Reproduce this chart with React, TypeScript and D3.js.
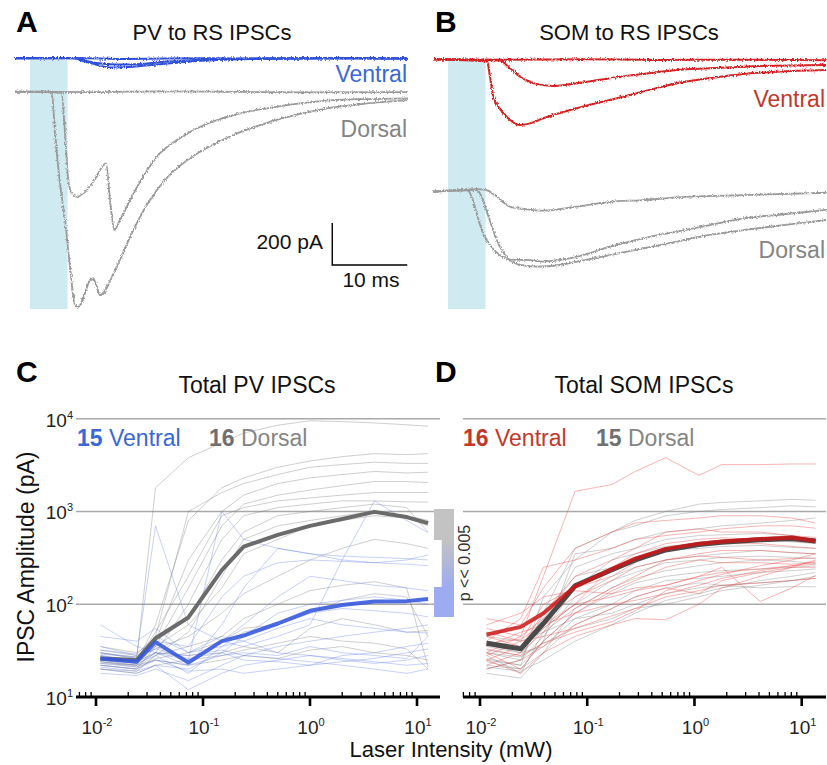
import React from 'react';
import * as d3 from 'd3';

type Pt = [number, number];

// ---------- Panel A / B traces: [time (ms), current (pA)] ----------
const pvVentralTraces: Pt[][] = [
  [[0, 0], [8, 2], [15, -3], [25, 0], [35, -2], [45, 1], [52.4, -1]],
  [[0, 0], [7.8, 0], [9, -8], [10.5, -20], [12.5, -28], [14.5, -30], [17, -26], [20, -17], [24, -8], [28, -3], [35, 0], [52.4, 0]],
  [[0, 0], [7.8, 0], [9.5, -18], [11, -32], [13, -44], [15, -42], [17, -36], [20, -26], [23, -16], [27, -8], [32, -3], [40, 0], [52.4, -2]],
];
const pvDorsalTraces: Pt[][] = [
  [[0, 0], [10, -2], [20, 2], [30, -1], [40, -3], [52.4, -2]],
  [[0, 0], [6.2, -5], [6.67, -198], [7.11, -421], [7.56, -484], [8.22, -500], [9.11, -484], [10.44, -429], [12.13, -341], [12.67, -516], [13.24, -659], [14.0, -611], [14.9, -548], [16.67, -429], [18.9, -310], [21.6, -230], [24.7, -167], [29.1, -111], [33.6, -79], [38.0, -56], [42.4, -40], [46.9, -35], [52.4, -32]],
  [[0, 0], [4.9, 0], [5.33, -198], [6.0, -437], [6.67, -611], [7.33, -833], [8.0, -1016], [8.44, -1024], [9.33, -960], [10.0, -897], [10.44, -889], [10.89, -929], [11.33, -968], [13.56, -833], [15.78, -659], [18.0, -516], [20.2, -413], [22.4, -341], [24.7, -286], [29.1, -206], [33.6, -148], [38.0, -106], [42.4, -75], [46.9, -56], [52.4, -40]],
];
const somVentralTraces: Pt[][] = [
  [[0, 0], [10, -2], [20, 0], [30, -3], [40, -2], [52.4, -4]],
  [[0, 0], [8.93, -6], [10.27, -43], [11.6, -83], [13.8, -117], [16.0, -127], [19.16, -114], [23.6, -90], [28.0, -70], [32.5, -51], [36.9, -43], [41.4, -35], [52.4, -27]],
  [[0, 0], [7.24, -11], [7.6, -83], [8.04, -178], [8.7, -225], [9.38, -257], [10.27, -289], [11.6, -313], [12.93, -305], [14.7, -281], [19.16, -233], [23.6, -194], [28.0, -154], [32.5, -114], [36.9, -90], [41.4, -70], [45.8, -59], [52.4, -51]],
];
const somDorsalTraces: Pt[][] = [
  [[0, 0], [5.8, 12], [7.16, 8], [8.5, -24], [10.27, -71], [12.5, -84], [14.7, -90], [19.16, -71], [23.6, -48], [28, -40], [32.5, -27], [41.4, -16], [52.4, -5]],
  [[0, 0], [4.5, 8], [5.16, -24], [5.82, -103], [6.5, -183], [7.6, -254], [8.93, -302], [10.7, -325], [12.5, -325], [14.7, -333], [16.9, -325], [19.16, -310], [23.6, -262], [28, -222], [32.5, -190], [36.9, -159], [41.4, -127], [45.8, -111], [52.4, -87]],
  [[0, 0], [5.8, 8], [6.5, -24], [7.4, -119], [8.5, -230], [9.8, -310], [11.6, -349], [13.8, -357], [16.9, -349], [19.16, -333], [23.6, -302], [28, -270], [32.5, -238], [36.9, -206], [41.4, -183], [45.8, -163], [52.4, -135]],
];

// ---------- Panel C / D: laser intensity (mW) and IPSC amplitudes (pA) ----------
const pvIntensity = [0.011, 0.024, 0.036, 0.073, 0.15, 0.24, 0.5, 1.0, 2.0, 4.0, 8.0, 12.7];
const somIntensity = [0.0115, 0.024, 0.039, 0.077, 0.17, 0.28, 0.54, 1.1, 1.8, 4.1, 8.1, 13.5];

const pvDorsalCells = [
  [30, 26, 1800, 3800, 5500, 7000, 8500, 9500, 9300, 9000, 8600, 8300],
  [28, 24, 60, 800, 1800, 2300, 3000, 3500, 3900, 4200, 4100, 4200],
  [25, 22, 45, 1000, 1600, 2000, 2500, 3000, 3200, 3400, 3300, 3300],
  [32, 28, 40, 300, 1000, 1500, 2000, 2300, 2500, 2700, 2600, 2650],
  [22, 20, 35, 150, 700, 1200, 1500, 1700, 1900, 2100, 2100, 2050],
  [27, 25, 50, 200, 900, 1100, 1300, 1400, 1500, 1600, 1600, 1600],
  [24, 22, 30, 100, 500, 900, 1100, 1200, 1300, 1300, 1270, 1260],
  [35, 30, 40, 70, 300, 600, 900, 1000, 1100, 1200, 1100, 600],
  [20, 19, 28, 50, 200, 500, 700, 800, 900, 1000, 900, 800],
  [26, 23, 35, 60, 150, 350, 500, 700, 800, 900, 850, 700],
  [30, 27, 33, 45, 80, 130, 200, 300, 400, 500, 450, 400],
  [24, 21, 28, 35, 45, 70, 100, 140, 160, 175, 150, 21],
  [22, 20, 26, 30, 40, 55, 60, 80, 110, 130, 120, 45],
  [20, 18, 22, 25, 28, 32, 38, 45, 40, 38, 33, 20],
  [27, 24, 30, 28, 30, 35, 30, 55, 70, 60, 50, 52],
  [23, 22, 25, 22, 25, 28, 26, 32, 35, 30, 28, 25],
];
const pvVentralCells = [
  [35, 28, 700, 60, 40, 35, 45, 60, 300, 1300, 800, 590],
  [24, 22, 30, 25, 1000, 500, 400, 350, 330, 320, 310, 300],
  [30, 26, 40, 35, 120, 200, 280, 300, 290, 280, 270, 260],
  [22, 20, 25, 22, 60, 150, 400, 350, 300, 280, 300, 340],
  [28, 25, 35, 25, 40, 60, 120, 200, 180, 160, 150, 140],
  [20, 18, 22, 20, 30, 45, 80, 100, 110, 120, 110, 100],
  [25, 23, 28, 18, 35, 50, 60, 80, 90, 85, 80, 73],
  [32, 29, 45, 30, 45, 40, 55, 70, 60, 55, 50, 49],
  [18, 17, 20, 15, 22, 28, 35, 40, 45, 50, 55, 60],
  [26, 24, 30, 22, 28, 30, 28, 35, 30, 28, 26, 45],
  [21, 19, 22, 12, 18, 22, 25, 28, 26, 24, 22, 23],
  [29, 27, 33, 26, 30, 25, 24, 22, 28, 30, 35, 38],
  [45, 40, 55, 30, 35, 40, 30, 28, 25, 23, 25, 28],
  [23, 21, 25, 19, 20, 18, 20, 22, 24, 26, 30, 33],
  [60, 35, 30, 28, 32, 28, 26, 24, 22, 20, 18, 20],
];
const pvDorsalMean = [26, 25, 43, 72, 233, 417, 560, 700, 830, 990, 870, 750];
const pvVentralMean = [26, 24, 39, 23.5, 40, 46, 62, 85, 98, 107, 108, 114];

const somVentralCells = [
  [30, 45, 200, 1650, 1950, 2700, 3800, 2450, 3200, 3200, 3250, 3250],
  [70, 60, 150, 400, 600, 750, 800, 850, 900, 900, 850, 750],
  [40, 70, 250, 300, 400, 500, 550, 600, 650, 700, 700, 660],
  [25, 35, 80, 200, 300, 400, 600, 650, 600, 600, 550, 525],
  [35, 50, 60, 100, 250, 350, 450, 500, 520, 500, 480, 455],
  [28, 40, 100, 150, 200, 280, 400, 430, 450, 450, 420, 400],
  [55, 45, 70, 120, 180, 250, 300, 350, 380, 380, 360, 350],
  [22, 30, 50, 90, 150, 200, 300, 330, 320, 300, 310, 316],
  [30, 20, 40, 80, 140, 180, 250, 300, 280, 280, 270, 280],
  [45, 35, 55, 100, 120, 140, 160, 200, 250, 107, 150, 205],
  [20, 25, 35, 60, 90, 120, 150, 130, 180, 220, 250, 250],
  [60, 80, 120, 140, 130, 150, 160, 200, 220, 240, 260, 270],
  [25, 18, 30, 45, 60, 70, 68, 100, 150, 200, 250, 300],
  [38, 42, 60, 80, 100, 110, 130, 160, 190, 230, 260, 290],
  [50, 40, 45, 55, 75, 90, 120, 140, 160, 170, 180, 190],
  [33, 28, 38, 50, 65, 85, 140, 180, 210, 260, 300, 350],
];
const somDorsalCells = [
  [25, 22, 120, 300, 600, 800, 1000, 1200, 1250, 1300, 1350, 1320],
  [30, 25, 80, 400, 600, 700, 900, 1000, 1050, 1100, 1150, 1120],
  [22, 20, 40, 350, 400, 500, 600, 650, 700, 750, 800, 850],
  [35, 30, 60, 250, 350, 400, 500, 550, 560, 580, 550, 490],
  [28, 18, 50, 150, 300, 350, 420, 450, 480, 500, 470, 450],
  [40, 35, 70, 200, 250, 300, 380, 400, 420, 430, 410, 400],
  [20, 25, 45, 120, 200, 250, 300, 330, 350, 380, 360, 350],
  [32, 28, 55, 100, 180, 220, 280, 300, 320, 330, 320, 310],
  [18, 16, 30, 90, 150, 190, 230, 260, 280, 300, 290, 275],
  [26, 22, 40, 80, 130, 170, 200, 220, 230, 240, 250, 260],
  [38, 30, 35, 70, 100, 140, 180, 190, 200, 220, 230, 240],
  [24, 20, 30, 60, 90, 120, 150, 170, 160, 150, 155, 154],
  [45, 40, 50, 70, 80, 100, 130, 150, 160, 170, 180, 190],
  [21, 19, 25, 40, 60, 80, 110, 130, 150, 180, 200, 220],
  [30, 27, 38, 55, 70, 90, 100, 120, 140, 160, 180, 200],
];
const somVentralMean = [47, 57, 80, 155, 240, 310, 395, 450, 475, 505, 525, 480];
const somDorsalMean = [38, 33, 62, 158, 235, 300, 385, 440, 465, 495, 510, 480];

const xTickValues = [0.01, 0.1, 1, 10];
const xTickExponents = ['-2', '-1', '0', '1'];
const yTickValues = [10, 100, 1000, 10000];
const yTickExponents = ['1', '2', '3', '4'];

const FONT = '"Liberation Sans", Arial, Helvetica, sans-serif';
const BLUE = '#2f4fd8';
const BLUE_TXT = '#3a68d4';
const RED = '#d42222';
const RED_TXT = '#c0392b';
const GRAY = '#9a9a9a';
const GRAY_TXT = '#858585';
const LIGHT = '#cfeaf0';

export default function App() {
  // trace scales
  const tA = d3.scaleLinear().domain([0, 52.4]).range([15, 408]);
  const tB = d3.scaleLinear().domain([0, 52.4]).range([433, 826]);
  const yAV = d3.scaleLinear().domain([0, -200]).range([58.3, 100.3]);
  const yAD = d3.scaleLinear().domain([0, -200]).range([91.7, 133.7]);
  const yBV = d3.scaleLinear().domain([0, -200]).range([59.3, 101.3]);
  const yBD = d3.scaleLinear().domain([0, -200]).range([191.7, 233.7]);

  const traceLine = (xs: any, ys: any) =>
    d3.line<Pt>().x(d => xs(d[0])).y(d => ys(d[1])).curve(d3.curveMonotoneX);

  // dose-response scales
  const xC = d3.scaleLog().domain([0.01, 10]).range([96, 417]);
  const xD = d3.scaleLog().domain([0.01, 10]).range([480, 801.7]);
  const yS = d3.scaleLog().domain([10, 10000]).range([697, 418.7]);
  const axisY = 697;
  const cX0 = 76, cX1 = 440, dX0 = 463, dX1 = 826;

  const doseLine = (xs: any, xsVals: number[]) =>
    d3.line<number>().x((_, i) => xs(xsVals[i])).y(d => yS(d));

  const minorTicks = (xs: any, x0: number, x1: number) =>
    d3.scaleLog().domain([xs.invert(x0), xs.invert(x1)]).ticks()
      .filter(v => Math.abs(Math.log10(v) - Math.round(Math.log10(v))) > 1e-6)
      .filter(v => xs(v) >= x0 && xs(v) <= x1);

  const lineC_pv = doseLine(xC, pvIntensity);
  const lineD_som = doseLine(xD, somIntensity);

  const axis = (xs: any, x0: number, x1: number) => (
    <g>
      {[100, 1000, 10000].map(v => (
        <line key={'g' + v} x1={x0} x2={x1} y1={yS(v)} y2={yS(v)} stroke="#a9a9a9" strokeWidth={1.4} />
      ))}
      <line x1={x0} x2={x1} y1={axisY} y2={axisY} stroke="#000" strokeWidth={3.2} />
      {minorTicks(xs, x0, x1).map((v, i) => (
        <line key={'m' + i} x1={xs(v)} x2={xs(v)} y1={axisY} y2={axisY - 5} stroke="#000" strokeWidth={1.3} />
      ))}
      {xTickValues.map((v, i) => (
        <g key={'t' + v}>
          <line x1={xs(v)} x2={xs(v)} y1={axisY} y2={axisY + 9} stroke="#000" strokeWidth={2.6} />
          <text x={xs(v) + 1} y={734} textAnchor="middle" fontSize={19} fill="#222" fontFamily={FONT}>
            10<tspan fontSize={11} dy={-8}>{xTickExponents[i]}</tspan>
          </text>
        </g>
      ))}
    </g>
  );

  return (
    <svg width={827} height={765} viewBox="0 0 827 765"
      style={{ position: 'absolute', left: 0, top: 0, background: '#fff' }} fontFamily={FONT}>
      <defs>
        <filter id="noise" filterUnits="userSpaceOnUse" x={0} y={30} width={827} height={290}>
          <feTurbulence type="fractalNoise" baseFrequency="0.9 0.6" numOctaves={2} seed={3} result="n" />
          <feDisplacementMap in="SourceGraphic" in2="n" scale={3.4} xChannelSelector="R" yChannelSelector="G" />
        </filter>
        <linearGradient id="pgrad" gradientUnits="userSpaceOnUse" x1={0} y1={509} x2={0} y2={617}>
          <stop offset="0" stopColor="#c3c3c3" />
          <stop offset="0.29" stopColor="#c3c3c3" />
          <stop offset="0.72" stopColor="#9dabf0" />
          <stop offset="1" stopColor="#9dabf0" />
        </linearGradient>
      </defs>

      {/* ---------- Panel A ---------- */}
      <text x={16} y={32} fontSize={30} fontWeight="bold" fill="#000">A</text>
      <text x={212} y={40} fontSize={22} textAnchor="middle" fill="#111">PV to RS IPSCs</text>
      <rect x={tA(2)} y={60} width={tA(7) - tA(2)} height={249} fill={LIGHT} />
      <g filter="url(#noise)">
        {pvDorsalTraces.map((tr, i) => (
          <path key={'ad' + i} d={traceLine(tA, yAD)(tr) || ''} fill="none" stroke={GRAY} strokeWidth={1.8} />
        ))}
        {pvVentralTraces.map((tr, i) => (
          <path key={'av' + i} d={traceLine(tA, yAV)(tr) || ''} fill="none" stroke={BLUE} strokeWidth={2} />
        ))}
      </g>
      <text x={407} y={82} fontSize={23} textAnchor="end" fill={BLUE_TXT}>Ventral</text>
      <text x={407} y={137} fontSize={23} textAnchor="end" fill={GRAY_TXT}>Dorsal</text>
      {/* scale bar */}
      <path d={`M${tA(42.3)},${yAD(-625)} V${yAD(-825)} H${tA(52.3)}`} fill="none" stroke="#000" strokeWidth={1.4} />
      <text x={323} y={249} fontSize={21} textAnchor="end" fill="#111">200 pA</text>
      <text x={371} y={287} fontSize={21} textAnchor="middle" fill="#111">10 ms</text>

      {/* ---------- Panel B ---------- */}
      <text x={435} y={32} fontSize={30} fontWeight="bold" fill="#000">B</text>
      <text x={629} y={40} fontSize={22} textAnchor="middle" fill="#111">SOM to RS IPSCs</text>
      <rect x={tB(2)} y={60} width={tB(7) - tB(2)} height={249} fill={LIGHT} />
      <g filter="url(#noise)">
        {somDorsalTraces.map((tr, i) => (
          <path key={'bd' + i} d={traceLine(tB, yBD)(tr) || ''} fill="none" stroke={GRAY} strokeWidth={1.8} />
        ))}
        {somVentralTraces.map((tr, i) => (
          <path key={'bv' + i} d={traceLine(tB, yBV)(tr) || ''} fill="none" stroke={RED} strokeWidth={2} />
        ))}
      </g>
      <text x={825} y={107} fontSize={23} textAnchor="end" fill={RED_TXT}>Ventral</text>
      <text x={825} y={258} fontSize={23} textAnchor="end" fill={GRAY_TXT}>Dorsal</text>

      {/* ---------- Panel C ---------- */}
      <text x={16} y={382} fontSize={30} fontWeight="bold" fill="#000">C</text>
      <text x={257} y={393} fontSize={23} textAnchor="middle" fill="#111">Total PV IPSCs</text>
      {axis(xC, cX0, cX1)}
      {yTickValues.map((v, i) => (
        <text key={'yt' + v} x={73} y={yS(v) + 8} fontSize={19} textAnchor="end" fill="#222">
          10<tspan fontSize={11} dy={-8}>{yTickExponents[i]}</tspan>
        </text>
      ))}
      <text transform="translate(34,557) rotate(-90)" fontSize={23} textAnchor="middle" fill="#111">IPSC Amplitude (pA)</text>
      {pvDorsalCells.map((c, i) => (
        <path key={'cd' + i} d={lineC_pv(c) || ''} fill="none" stroke="rgba(120,120,120,0.4)" strokeWidth={0.9} />
      ))}
      {pvVentralCells.map((c, i) => (
        <path key={'cv' + i} d={lineC_pv(c) || ''} fill="none" stroke="rgba(90,120,235,0.38)" strokeWidth={0.9} />
      ))}
      <path d={lineC_pv(pvDorsalMean) || ''} fill="none" stroke="#6b6b6b" strokeWidth={4} strokeLinejoin="round" />
      <path d={lineC_pv(pvVentralMean) || ''} fill="none" stroke="#3457dc" strokeOpacity={0.88} strokeWidth={4} strokeLinejoin="round" />
      <text x={77} y={446} fontSize={23} fill={BLUE_TXT}>
        <tspan fontWeight="bold">15</tspan> Ventral
      </text>
      <text x={209} y={446} fontSize={23} fill={GRAY_TXT}>
        <tspan fontWeight="bold" fill="#707070">16</tspan> Dorsal
      </text>

      {/* significance bracket */}
      <path d="M434,509 H454 V617 H434 V587 H441.7 V540 H434 Z" fill="url(#pgrad)" />
      <text transform="translate(470,563) rotate(-90)" fontSize={16} textAnchor="middle" fill="#333">p &lt;&lt; 0.005</text>

      {/* ---------- Panel D ---------- */}
      <text x={435} y={382} fontSize={30} fontWeight="bold" fill="#000">D</text>
      <text x={644} y={393} fontSize={23} textAnchor="middle" fill="#111">Total SOM IPSCs</text>
      {axis(xD, dX0, dX1)}
      {somDorsalCells.map((c, i) => (
        <path key={'dd' + i} d={lineD_som(c) || ''} fill="none" stroke="rgba(120,120,120,0.4)" strokeWidth={0.9} />
      ))}
      {somVentralCells.map((c, i) => (
        <path key={'dv' + i} d={lineD_som(c) || ''} fill="none" stroke="rgba(238,70,70,0.45)" strokeWidth={0.9} />
      ))}
      <path d={lineD_som(somDorsalMean) || ''} fill="none" stroke="#4a4a4a" strokeWidth={5} strokeLinejoin="round" />
      <path d={lineD_som(somVentralMean) || ''} fill="none" stroke="#cc1515" strokeOpacity={0.85} strokeWidth={4} strokeLinejoin="round" />
      <text x={463} y={446} fontSize={23} fill={RED_TXT}>
        <tspan fontWeight="bold">16</tspan> Ventral
      </text>
      <text x={596} y={446} fontSize={23} fill={GRAY_TXT}>
        <tspan fontWeight="bold" fill="#707070">15</tspan> Dorsal
      </text>

      <text x={451} y={757} fontSize={22} textAnchor="middle" fill="#111">Laser Intensity (mW)</text>
    </svg>
  );
}
